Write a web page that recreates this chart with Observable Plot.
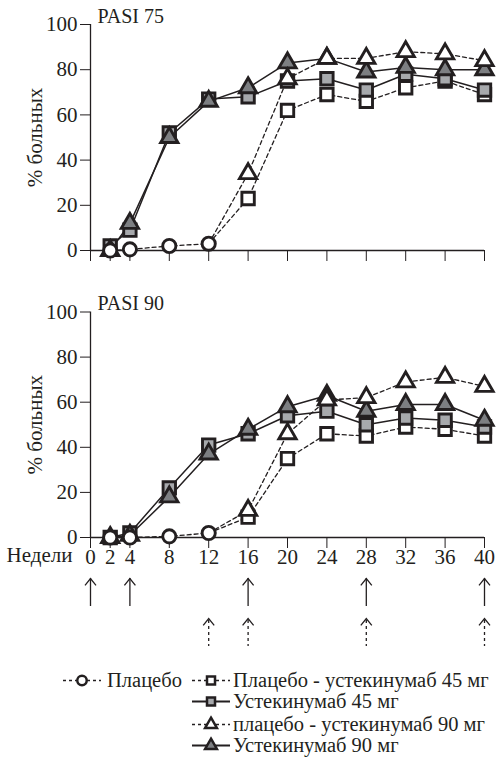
<!DOCTYPE html>
<html><head><meta charset="utf-8">
<script src="https://cdn.jsdelivr.net/npm/d3@7"></script>
<script src="https://cdn.jsdelivr.net/npm/@observablehq/plot@0.6"></script>
<style>
body{margin:0;background:#fff;font-family:'Liberation Serif',serif;color:#231f20}
#root{position:relative;width:500px;height:760px;overflow:hidden}
#root svg{position:absolute;left:0;font-family:'Liberation Serif',serif !important}
#root svg text{font-family:'Liberation Serif',serif !important}
</style></head><body><div id="root"></div>
<script>
// ---- data ----
const weeks = [0, 2, 4, 8, 12, 16, 20, 24, 28, 32, 36, 40];
const weeksPlacebo = [2, 4, 8, 12];
const weeksUst = [2, 4, 8, 12, 16, 20, 24, 28, 32, 36, 40];
const weeksCross = [12, 16, 20, 24, 28, 32, 36, 40];
const yTicks = [0, 20, 40, 60, 80, 100];
// PASI 75
const p75Placebo = [0, 0.5, 2, 3];
const p75Ust45 = [2, 9, 52, 67, 68, 75, 76, 71, 78, 76, 71];
const p75Ust90 = [0, 12, 50, 66, 72, 83, 85, 79, 81, 80, 80];
const p75Pl45 = [3, 23, 62, 69, 66, 72, 75, 69];
const p75Pl90 = [3, 34, 76, 85, 85, 88, 87, 84];
// PASI 90
const p90Placebo = [0, 0, 0.5, 2];
const p90Ust45 = [0, 2, 22, 41, 46, 54, 56, 50, 53, 52, 49];
const p90Ust90 = [0, 1, 18, 37, 48, 58, 63, 56, 59, 59, 52];
const p90Pl45 = [2, 9, 35, 46, 45, 49, 48, 45];
const p90Pl90 = [2, 12, 46, 61, 62, 69, 71, 67];
// dosing arrows
const solidArrowWeeks = [0, 4, 16, 28, 40];
const dashedArrowWeeks = [12, 16, 28, 40];
// legend labels
const legendLabels = ["Плацебо", "Плацебо - устекинумаб 45 мг", "Устекинумаб 45 мг", "плацебо - устекинумаб 90 мг", "Устекинумаб 90 мг"];

// ---- styles ----
const INK = "#231f20", GRAY45 = "#a7a9ac", GRAY90 = "#7d7f82";
const FONT = "'Liberation Serif', serif";
const DASH = "4,3";

const pts = (xs, ys) => xs.map((x, i) => ({week: x, value: ys[i]}));

function panel(title, s, opts) {
  const pl = pts(weeksPlacebo, s.placebo);
  const u45 = pts(weeksUst, s.u45);
  const u90 = pts(weeksUst, s.u90);
  const c45 = pts(weeksCross, s.c45);
  const c90 = pts(weeksCross, s.c90);
  const xy = {x: "week", y: "value"};
  const marks = [
    Plot.axisY({ticks: yTicks, tickSize: 10, tickPadding: 3, label: "% больных", labelAnchor: "center", labelArrow: "none", labelOffset: 63}),
    Plot.axisX({ticks: weeks, tickSize: 11, tickPadding: 1, label: null, tickFormat: opts.labels ? (d => d) : (() => "")}),
    Plot.ruleY([0], {stroke: INK, strokeWidth: 1.3}),
    Plot.ruleX([0], {stroke: INK, strokeWidth: 1.3}),
    Plot.line(c45, {...xy, stroke: INK, strokeWidth: 1.3, strokeDasharray: DASH}),
    Plot.line(c90, {...xy, stroke: INK, strokeWidth: 1.3, strokeDasharray: DASH}),
    Plot.line(pl, {...xy, stroke: INK, strokeWidth: 1.3, strokeDasharray: DASH}),
    Plot.line(u45, {...xy, stroke: INK, strokeWidth: 1.5}),
    Plot.line(u90, {...xy, stroke: INK, strokeWidth: 1.5}),
    Plot.dot(c45.slice(1), {...xy, symbol: "square", r: 7, fill: "white", stroke: INK, strokeWidth: 2.9}),
    Plot.dot(u45, {...xy, symbol: "square", r: 7, fill: GRAY45, stroke: INK, strokeWidth: 2.9}),
    Plot.dot(u90, {...xy, symbol: "triangle", r: 6.4, fill: GRAY90, stroke: INK, strokeWidth: 2.9}),
    Plot.dot(c90.slice(1), {...xy, symbol: "triangle", r: 6.4, fill: "white", stroke: INK, strokeWidth: 2.9}),
    Plot.dot(pl, {...xy, symbol: "circle", r: 6.6, fill: "white", stroke: INK, strokeWidth: 2.9}),
    Plot.text([title], {frameAnchor: "top-left", textAnchor: "start", lineAnchor: "bottom", dx: 7, dy: -2, fontSize: 20, fill: INK})
  ];
  if (opts.labels) {
    marks.push(Plot.text(["Недели"], {x: weeks[0], frameAnchor: "bottom", textAnchor: "end", lineAnchor: "top", dx: -18, dy: 10, fill: INK}));
  }
  const svg = Plot.plot({
    width: 500, height: opts.height,
    marginLeft: 90, marginRight: 16, marginTop: opts.mt, marginBottom: opts.mb,
    style: {fontFamily: FONT, fontSize: "21px", color: INK, background: "transparent", overflow: "visible"},
    x: {domain: [0, 40]},
    y: {domain: [0, 100]},
    marks
  });
  svg.setAttribute("font-family", FONT);
  d3.select(svg).selectAll("text").attr("font-family", FONT);
  svg.style.top = opts.top + "px";
  return svg;
}

const root = document.getElementById("root");
root.appendChild(panel("PASI 75", {placebo: p75Placebo, u45: p75Ust45, u90: p75Ust90, c45: p75Pl45, c90: p75Pl90},
  {top: 0, height: 266, mt: 24, mb: 16, labels: false}));
root.appendChild(panel("PASI 90", {placebo: p90Placebo, u45: p90Ust45, u90: p90Ust90, c45: p90Pl45, c90: p90Pl90},
  {top: 266, height: 297, mt: 45.5, mb: 26, labels: true}));

// ---- dosing arrows ----
const chevron = {draw(ctx, size) { const r = Math.sqrt(size / Math.PI); ctx.moveTo(-r, r * 1.25); ctx.lineTo(0, 0); ctx.lineTo(r, r * 1.25); }};
const arrows = [
  ...solidArrowWeeks.map(w => ({week: w, row: 0, dashed: false})),
  ...dashedArrowWeeks.map(w => ({week: w, row: 1, dashed: true}))
];
const arrowSvg = Plot.plot({
  width: 500, height: 90, marginLeft: 90, marginRight: 16, marginTop: 9, marginBottom: 1,
  style: {background: "transparent", overflow: "visible"},
  x: {domain: [0, 40], axis: null},
  y: {domain: [0, 2], reverse: true, axis: null},
  marks: [
    Plot.ruleX(arrows.filter(d => !d.dashed), {x: "week", y1: d => d.row + 0.15, y2: d => d.row + 0.85, stroke: INK, strokeWidth: 1.3}),
    Plot.ruleX(arrows.filter(d => d.dashed), {x: "week", y1: d => d.row + 0.2, y2: d => d.row + 0.85, stroke: INK, strokeWidth: 1.3, strokeDasharray: "3,3"}),
    Plot.dot(arrows, {x: "week", y: d => d.row + 0.15, symbol: chevron, r: 5.5, fill: "none", stroke: INK, strokeWidth: 1.3})
  ]
});
arrowSvg.style.top = "563px";
root.appendChild(arrowSvg);

// ---- legend ----
const legendItems = [
  {label: legendLabels[0], symbol: d3.symbolCircle, fill: "white", dashed: true, x: 63, base: 687},
  {label: legendLabels[1], symbol: d3.symbolSquare, fill: "white", dashed: true, x: 192, base: 687},
  {label: legendLabels[2], symbol: d3.symbolSquare, fill: GRAY45, dashed: false, x: 192, base: 708},
  {label: legendLabels[3], symbol: d3.symbolTriangle, fill: "white", dashed: true, x: 192, base: 731},
  {label: legendLabels[4], symbol: d3.symbolTriangle, fill: GRAY90, dashed: false, x: 192, base: 752}
];
const leg = d3.create("svg").attr("width", 500).attr("height", 760).style("top", "0px")
  .attr("font-family", FONT).attr("font-size", 20.5).attr("fill", INK);
const g = leg.selectAll("g").data(legendItems).join("g").attr("transform", d => `translate(${d.x},${d.base - 6.5})`);
g.append("line").attr("x1", 0).attr("x2", 38).attr("stroke", INK).attr("stroke-width", d => d.dashed ? 1.3 : 2)
  .attr("stroke-dasharray", d => d.dashed ? "3,3" : null);
g.append("path").attr("transform", "translate(19,0)")
  .attr("d", d => d3.symbol(d.symbol, d.symbol === d3.symbolCircle ? 70 : d.symbol === d3.symbolSquare ? 64 : 60)())
  .attr("fill", d => d.fill).attr("stroke", INK).attr("stroke-width", 2.5);
g.append("text").attr("x", d => d.symbol === d3.symbolCircle ? 44 : 41).attr("y", 6.5).text(d => d.label);
root.appendChild(leg.node());
</script></body></html>
